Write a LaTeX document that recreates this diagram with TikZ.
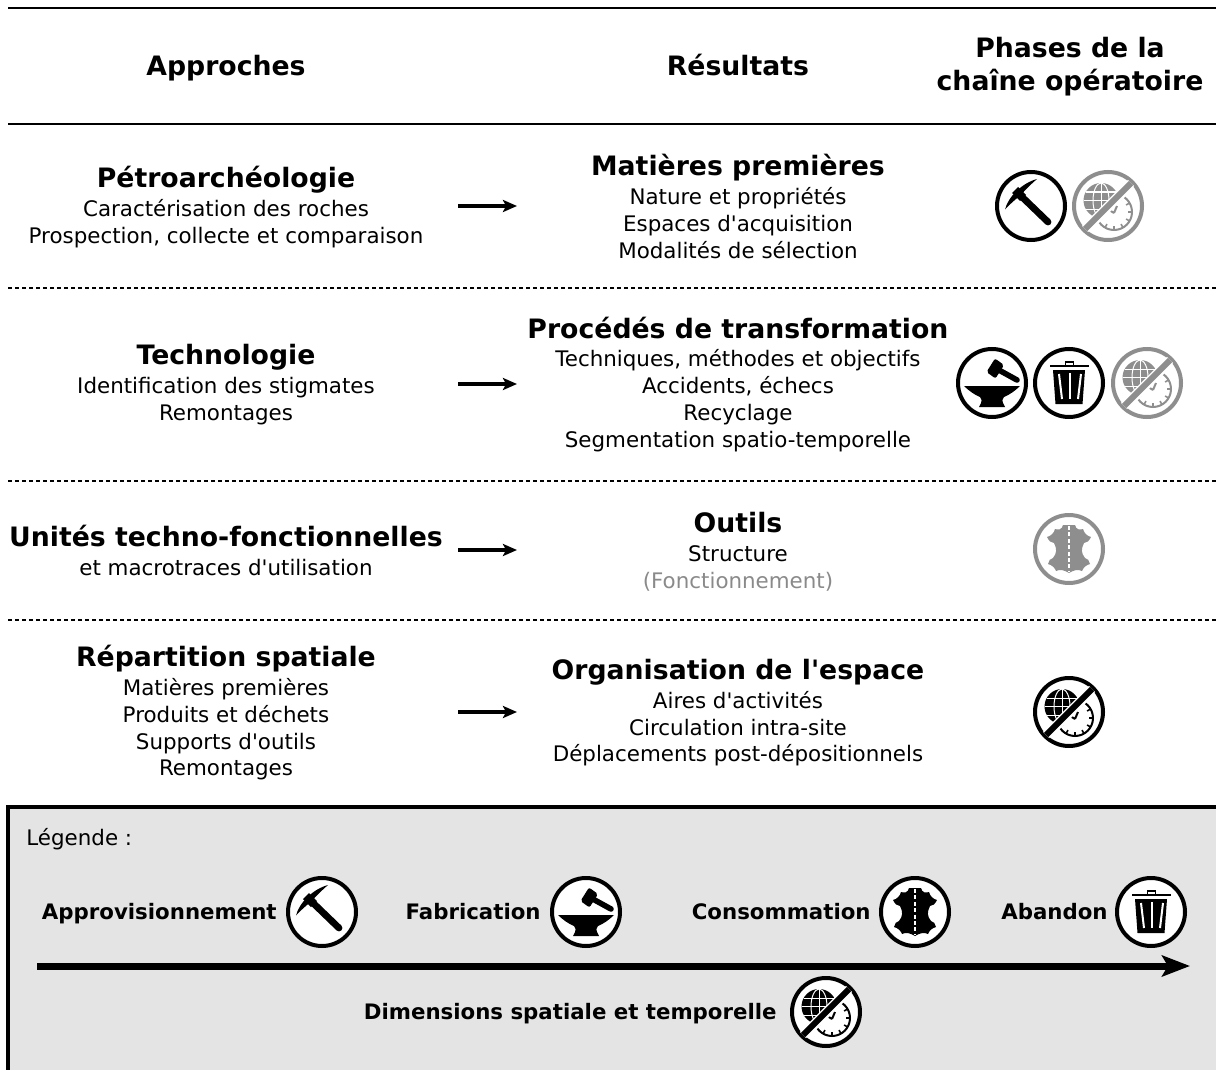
\documentclass[tikz,border=0pt]{standalone}
\usepackage{fontspec}
\setmainfont[Ligatures=TeXOff]{DejaVu Sans}
\usetikzlibrary{arrows.meta}
\definecolor{legendbg}{HTML}{E4E4E4}
\definecolor{fadeicon}{HTML}{8E8E8E}
\definecolor{fadetext}{HTML}{8A8A8A}
\tikzset{
  head/.style={anchor=base,font=\fontsize{13.35}{16}\selectfont\bfseries,text=black,inner sep=0pt},
  title/.style={anchor=base,font=\fontsize{13.35}{16}\selectfont\bfseries,text=black,inner sep=0pt},
  body/.style={anchor=base,font=\fontsize{10.7}{13}\selectfont,text=black,inner sep=0pt},
  leg/.style={anchor=base,font=\fontsize{10.65}{13}\selectfont\bfseries,text=black,inner sep=0pt},
  rulerline/.style={line width=1pt,black},
  dotline/.style={line width=0.75pt,black,dash pattern=on 2pt off 1.5pt},
  goes/.style={line width=1.8pt,-{Stealth[length=7pt,width=6pt,inset=1.5pt]}},
  icon ring/.style={line width=2pt,fill=white},
  pics/ring/.style={code={\draw[icon ring,draw=#1] (0,0) circle (34);}},
  pics/pick/.style={code={
    \pic {ring=#1};
    \draw[#1,line width=3.4pt,line cap=round] (-11,-11) -- (17,16);
    \fill[#1] (-26,3.5) .. controls (-23,-9) and (-9,-23) .. (6,-27)
       .. controls (-3,-19) and (-7,-15) .. (-9,-12)
       .. controls (-14,-8) and (-21,-2) .. cycle;
    \fill[#1] (-19,-13) -- (-13,-19) -- (-5,-11) -- (-11,-5) -- cycle;
  }},
  pics/anvil/.style={code={
    \pic {ring=#1};
    \fill[#1] (-28,3) -- (28,3) .. controls (23,8) and (17,12) .. (12,14)
       .. controls (10,16) and (10,18) .. (11,20) -- (13,24) -- (-13,24) -- (-11,20)
       .. controls (-10,18) and (-10,16) .. (-12,14)
       .. controls (-17,12) and (-23,8) .. cycle;
    \draw[#1,line width=2.8pt,line cap=round] (5,-14) -- (25,-3);
    \fill[#1,rounded corners=1pt] (3,-24.5) -- (12,-18) -- (3.5,-4.5) -- (-5.5,-11) -- cycle;
  }},
  pics/trash/.style={code={
    \pic {ring=#1};
    \draw[#1,line width=1pt] (-19,-17) -- (20,-17);
    \draw[#1,line width=0.8pt] (-3.5,-17) rectangle (4.5,-21);
    \fill[#1] (-16,-13) -- (16,-13) -- (13.5,21) -- (-13.5,21) -- cycle;
    \draw[white,line width=1pt] (0.5,-10) -- (0.5,16);
    \draw[white,line width=1pt] (-10,-9) -- (-7,16);
    \draw[white,line width=1pt] (12,-9) -- (9,16);
  }},
  pics/hide/.style={code={
    \pic {ring=#1};
    \fill[#1] (-6,-24) -- (6,-24) .. controls (7,-19) and (11,-19) .. (14,-20)
       .. controls (15,-16) and (18,-13) .. (22,-12) .. controls (20,-8) and (18,-6) .. (15,-6)
       .. controls (12,0) and (12,4) .. (16,9) .. controls (19,9) and (20,12) .. (21,15)
       .. controls (17,16) and (14,19) .. (13,22) .. controls (9,20) and (5,21) .. (0,24)
       .. controls (-5,21) and (-9,20) .. (-13,22) .. controls (-14,19) and (-17,16) .. (-21,15)
       .. controls (-20,12) and (-19,9) .. (-16,9) .. controls (-12,4) and (-12,0) .. (-15,-6)
       .. controls (-18,-6) and (-20,-8) .. (-22,-12) .. controls (-18,-13) and (-15,-16) .. (-14,-20)
       .. controls (-11,-19) and (-7,-19) .. cycle;
    \draw[white,line width=0.7pt,dash pattern=on 2pt off 1.2pt] (0,-23) -- (0,23);
  }},
  pics/nodim/.style={code={
    \pic {ring=#1};
    \begin{scope}
      \clip (-34,-34) -- (30,-34) -- (-34,30) -- cycle;
      \fill[#1] (-7,-5.5) circle (17.5);
      \draw[white,line width=0.5pt] (-7,-5.5) ellipse (8 and 17.5);
      \draw[white,line width=0.5pt] (-7,-23) -- (-7,12);
      \draw[white,line width=0.5pt] (-24.5,-5.5) -- (10.5,-5.5);
      \draw[white,line width=0.5pt] (-22,-14) -- (8,-14);
      \draw[white,line width=0.5pt] (-22,3) -- (8,3);
    \end{scope}
    \begin{scope}
      \clip (34,34) -- (-26,34) -- (34,-26) -- cycle;
      \draw[#1,line width=1pt] (6,6) circle (18);
      \foreach \a in {0,30,...,330} \draw[#1,line width=0.8pt] (6,6) ++(\a:14) -- ++(\a:4);
      \draw[#1,line width=1pt] (6,7) -- (-2,2) (6,7) -- (9,0);
    \end{scope}
    \draw[white,line width=4.4pt] (-23,23) -- (23,-23);
    \draw[#1,line width=3pt] (-23,23) -- (23,-23);
  }},
}
\begin{document}
\begin{tikzpicture}[x=0.5pt,y=-0.5pt]
\useasboundingbox (0,0) rectangle (1216,1070);
% rules
\coordinate (t1) at (8,8); \coordinate (t2) at (1216,8);
\coordinate (h1) at (8,124); \coordinate (h2) at (1216,124);
\draw[rulerline] (t1) -- (t2);
\draw[rulerline] (h1) -- (h2);
\coordinate (d1a) at (8,288); \coordinate (d1b) at (1216,288);
\coordinate (d2a) at (8,481); \coordinate (d2b) at (1216,481);
\coordinate (d3a) at (8,620); \coordinate (d3b) at (1216,620);
\draw[dotline] (d1a) -- (d1b);
\draw[dotline] (d2a) -- (d2b);
\draw[dotline] (d3a) -- (d3b);
% headers
\node[head] (happ) at (226,75.5) {Approches};
\node[head] (hres) at (738,75.5) {Résultats};
\node[head] (hph1) at (1070,57.5) {Phases de la};
\node[head] (hph2) at (1070,90.5) {chaîne opératoire};
% row 1
\node[title] (a1) at (226,187) {Pétroarchéologie};
\node[body] (a1a) at (226,216) {Caractérisation des roches};
\node[body] (a1b) at (226,243) {Prospection, collecte et comparaison};
\node[title] (r1) at (738,176) {Matières premières};
\node[body] (r1a) at (738,205) {Nature et propriétés};
\node[body] (r1b) at (738,231) {Espaces d'acquisition};
\node[body] (r1c) at (738,258) {Modalités de sélection};
\coordinate (f1) at (458,206); \coordinate (g1) at (517,206);
\draw[goes] (f1) -- (g1);
\pic at (1031,206) {pick=black};
\pic at (1108,206) {nodim=fadeicon};
% row 2
\node[title] (a2) at (226,364) {Technologie};
\node[body] (a2a) at (226,393) {Identification des stigmates};
\node[body] (a2b) at (226,420) {Remontages};
\node[title] (r2) at (738,338) {Procédés de transformation};
\node[body] (r2a) at (738,366) {Techniques, méthodes et objectifs};
\node[body] (r2b) at (738,393) {Accidents, échecs};
\node[body] (r2c) at (738,420) {Recyclage};
\node[body] (r2d) at (738,447) {Segmentation spatio-temporelle};
\coordinate (f2) at (458,384); \coordinate (g2) at (517,384);
\draw[goes] (f2) -- (g2);
\pic at (992,383) {anvil=black};
\pic at (1069,383) {trash=black};
\pic at (1147,383) {nodim=fadeicon};
% row 3
\node[title] (a3) at (226,546) {Unités techno-fonctionnelles};
\node[body] (a3a) at (226,575) {et macrotraces d'utilisation};
\node[title] (r3) at (738,532) {Outils};
\node[body] (r3a) at (738,561) {Structure};
\node[body,text=fadetext] (r3b) at (738,588) {(Fonctionnement)};
\coordinate (f3) at (458,550); \coordinate (g3) at (517,550);
\draw[goes] (f3) -- (g3);
\pic at (1069,549) {hide=fadeicon};
% row 4
\node[title] (a4) at (226,666) {Répartition spatiale};
\node[body] (a4a) at (226,695) {Matières premières};
\node[body] (a4b) at (226,722) {Produits et déchets};
\node[body] (a4c) at (226,749) {Supports d'outils};
\node[body] (a4d) at (226,775) {Remontages};
\node[title] (r4) at (738,679) {Organisation de l'espace};
\node[body] (r4a) at (738,708) {Aires d'activités};
\node[body] (r4b) at (738,735) {Circulation intra-site};
\node[body] (r4c) at (738,761) {Déplacements post-dépositionnels};
\coordinate (f4) at (458,712); \coordinate (g4) at (517,712);
\draw[goes] (f4) -- (g4);
\pic at (1069,712) {nodim=black};
% legend
\coordinate (b1) at (8,807); \coordinate (b2) at (1230,1090);
\draw[line width=2pt,fill=legendbg] (b1) rectangle (b2);
\node[body,anchor=base west] (ltitle) at (26,845) {Légende :};
\node[leg,anchor=base east] (l1) at (277,919) {Approvisionnement};
\pic at (322,912) {pick=black};
\node[leg,anchor=base east] (l2) at (541,919) {Fabrication};
\pic at (586,912) {anvil=black};
\node[leg,anchor=base east] (l3) at (871,919) {Consommation};
\pic at (915,912) {hide=black};
\node[leg,anchor=base east] (l4) at (1108,919) {Abandon};
\pic at (1151,912) {trash=black};
\coordinate (tl1) at (37,966); \coordinate (tl2) at (1190,966);
\draw[line width=3.5pt,-{Stealth[length=14pt,width=10.5pt,inset=3pt]}] (tl1) -- (tl2);
\node[leg,anchor=base east] (l5) at (777,1019) {Dimensions spatiale et temporelle};
\pic at (826,1012) {nodim=black};
\end{tikzpicture}
\end{document}
